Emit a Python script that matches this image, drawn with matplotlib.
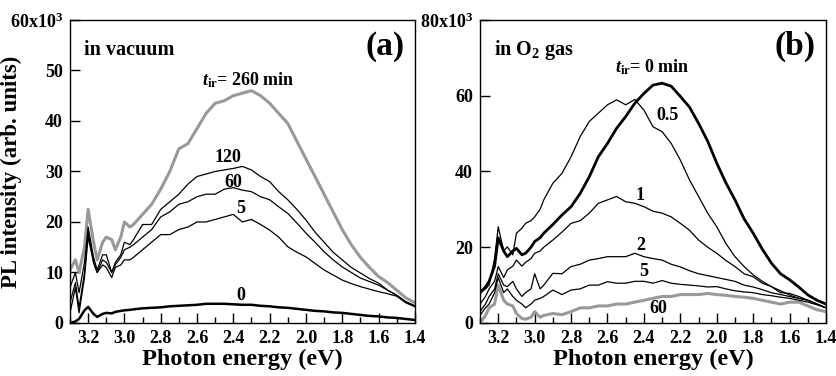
import matplotlib
matplotlib.use('Agg')
import matplotlib.pyplot as plt
from matplotlib.ticker import MultipleLocator

plt.rcParams['font.family'] = ['Liberation Serif', 'DejaVu Serif']
plt.rcParams['font.weight'] = 'bold'
plt.rcParams['mathtext.fontset'] = 'custom'
plt.rcParams['mathtext.rm'] = 'Liberation Serif:bold'
plt.rcParams['mathtext.it'] = 'Liberation Serif:bold:italic'
plt.rcParams['mathtext.bf'] = 'Liberation Serif:bold'

# photon energy grid (eV), same for every spectrum
energy = [3.30, 3.27, 3.25, 3.22, 3.20, 3.17, 3.15, 3.12, 3.10, 3.07, 3.05, 3.02, 3.00, 2.97, 2.95,
          2.90, 2.85, 2.80, 2.75, 2.70, 2.65, 2.60, 2.55, 2.50, 2.45, 2.40, 2.35, 2.30, 2.25, 2.20,
          2.15, 2.10, 2.05, 2.00, 1.95, 1.90, 1.85, 1.80, 1.75, 1.70, 1.65, 1.60, 1.55, 1.50, 1.45, 1.40]

# (a) in vacuum, PL intensity in units of 10^3
vac_260 = [10.5, 12.5, 10, 15, 22.5, 16, 12.5, 16, 17, 16.5, 14.5, 17, 20, 19, 19.5,
           21.5, 23.5, 26.5, 30, 34.5, 35.5, 38.5, 41.5, 43.5, 44, 45, 45.5, 46, 45, 43.5,
           41.5, 39.5, 36, 32.5, 29, 25.5, 22, 18.5, 15.5, 13, 11, 9.2, 8, 6.5, 5, 4]
vac_120 = [7, 10, 6, 12, 19, 13, 10.5, 13.5, 13.5, 10, 12, 13.5, 16, 15.5, 16.5,
           19.5, 19.5, 22.5, 24, 25.5, 27.5, 29, 29.5, 30, 30.3, 30.6, 31, 30.3, 29, 28,
           26, 24.4, 22.5, 20.4, 18, 16, 14, 12.5, 11, 9.9, 8.8, 7.9, 6.5, 5.5, 4.2, 3.4]
vac_60 = [4, 8, 3, 10, 18, 12, 10, 12.5, 12, 10, 11.5, 13, 14.5, 15, 15.5,
          17, 18.5, 21, 22, 23.5, 24, 25, 25.5, 25.5, 26.5, 26.8, 26.3, 26, 25, 24.4,
          23, 21.7, 19.8, 17.8, 16, 14.1, 12.5, 11.1, 10, 8.9, 8.2, 7.5, 6.5, 5.5, 4.2, 3.4]
vac_5 = [2, 7, 2, 9, 17, 12, 10, 11.5, 11, 9, 11, 11.5, 12.5, 12.5, 13,
         14.5, 16, 17.5, 17.5, 18.5, 19, 20, 20, 20.5, 21, 21.5, 20, 20.5, 19.5, 18.4,
         17, 15.1, 14, 13.1, 11.8, 10.5, 9.5, 8.5, 7.8, 7.2, 6.7, 6.2, 5.8, 5.3, 4, 3.2]
vac_0 = [0, 0.3, 0.8, 2.5, 3.2, 1.8, 1.2, 1.8, 2, 1.9, 2.2, 2.4, 2.5, 2.6, 2.7,
         2.9, 3.0, 3.1, 3.3, 3.4, 3.5, 3.6, 3.8, 3.8, 3.8, 3.7, 3.6, 3.6, 3.4, 3.3,
         3.1, 3.0, 2.8, 2.6, 2.4, 2.3, 2.1, 2.0, 1.8, 1.6, 1.4, 1.3, 1.1, 1.0, 0.8, 0.6]

# (b) in O2 gas
o2_0 = [8, 9.5, 11, 15, 22.5, 19, 17.5, 19, 19.7, 18, 18.4, 20, 21.5, 22.5, 23.7,
        26, 28.5, 30.7, 34.2, 38.6, 43.9, 47.4, 51.4, 54.5, 58, 60.6, 62.8, 63.3, 62.5, 59.8,
        57, 52.7, 48, 42.2, 37, 32.5, 27.5, 23.7, 19.5, 15.8, 13, 11.4, 9.5, 7.4, 6, 5]
o2_05 = [8, 9, 10, 17, 25.4, 19, 20.1, 18, 23.7, 25, 26.3, 27, 28, 30, 32.5,
         36.9, 39.5, 43.9, 49.2, 53.2, 55.4, 57.6, 58.9, 57.6, 59, 56.2, 51.8, 50.5, 47.4, 43,
         37.8, 33.4, 29, 25.4, 21, 17.5, 14.9, 12.7, 11, 9.6, 8.5, 7.4, 6.5, 6, 5, 4]
o2_1 = [5, 7, 9, 11, 14.9, 12, 14, 15, 16.6, 15, 16, 17, 18.4, 19, 20,
        21.9, 24, 26.3, 27, 29, 31.6, 32.5, 33.4, 32, 31.6, 30.7, 29.5, 29, 28, 26.3,
        24.5, 21.9, 20, 18.4, 16.5, 14.9, 13, 12.2, 10.5, 9.6, 8, 7.8, 7, 6, 5, 4]
o2_2 = [3, 5, 7, 9, 13, 10, 9.6, 11, 9, 7, 8, 9, 13, 9, 10,
        13.1, 13, 14.9, 15.5, 16.6, 17, 17.5, 17.5, 17.5, 18.4, 17.5, 17, 16.6, 15.5, 14.8,
        13.8, 13, 12.5, 12, 11.5, 11, 10, 9.5, 8.8, 8, 7.5, 7, 6.5, 6, 5, 4]
o2_5 = [2, 4, 5, 8, 12, 8, 9, 7, 6, 5, 4, 5, 6, 6.5, 7,
        8.7, 7.5, 8.7, 9, 10, 10, 10.9, 10.5, 10.5, 11, 11, 10.5, 11.2, 10.5, 10.2,
        10, 9.8, 9.5, 9.6, 9, 8.5, 8.2, 8, 7.5, 7.2, 6.8, 6.5, 6, 5.5, 4.8, 4]
o2_60 = [0, 2, 4, 5, 10, 6, 5, 4.5, 2.5, 1.2, 1, 1.5, 3, 1.5, 2,
         2.5, 2.2, 3, 4, 4, 4.5, 4.5, 5, 5, 5.5, 6, 6.5, 7, 7, 7.5,
         7.5, 7.5, 7.8, 7.5, 7.3, 7, 6.8, 6.5, 6, 5.5, 5, 5.5, 5.5, 4.5, 3.5, 3]

gray = '#999999'
fig = plt.figure(figsize=(8.37, 3.76), dpi=100)
ax1 = fig.add_axes([0.0836, 0.141, 0.412, 0.806])
ax2 = fig.add_axes([0.5735, 0.141, 0.4134, 0.806])

ax1.plot(energy, vac_260, color=gray, lw=2.2)
ax1.plot(energy, vac_120, color='black', lw=0.9)
ax1.plot(energy, vac_60, color='black', lw=0.9)
ax1.plot(energy, vac_5, color='black', lw=0.9)
ax1.plot(energy, vac_0, color='black', lw=1.8)

ax2.plot(energy, o2_60, color=gray, lw=2.2)
ax2.plot(energy, o2_5, color='black', lw=0.9)
ax2.plot(energy, o2_2, color='black', lw=0.9)
ax2.plot(energy, o2_1, color='black', lw=0.9)
ax2.plot(energy, o2_05, color='black', lw=0.9)
ax2.plot(energy, o2_0, color='black', lw=2.0)

for ax, ytop, ystep in [(ax1, 60, 10), (ax2, 80, 20)]:
    ax.set_xlim(3.3, 1.4)
    ax.set_ylim(0, ytop)
    ax.xaxis.set_major_locator(MultipleLocator(0.2))
    ax.xaxis.set_minor_locator(MultipleLocator(0.1))
    ticks = list(range(0, ytop + 1, ystep))
    ax.set_yticks(ticks)
    ax.set_yticklabels([str(t) for t in ticks[:-1]] + ['%dx10$^3$' % ytop])
    ax.set_xticklabels(['%.1f' % t for t in ax.get_xticks()])
    ax.tick_params(axis='both', which='major', direction='in', length=7, width=1,
                   labelsize=13, top=False, right=False, pad=5)
    ax.tick_params(axis='x', which='minor', direction='in', length=4, width=1, top=False)
    for s in ax.spines.values():
        s.set_linewidth(1)
    ax.set_xlabel('Photon energy (eV)', fontsize=17.5, fontweight='bold', labelpad=1)

ax1.set_ylabel('PL intensity (arb. units)', fontsize=16.5, fontweight='bold')
ax1.yaxis.set_label_coords(-0.14, 0.5)

ax1.text(0.04, 0.885, 'in vacuum', transform=ax1.transAxes, fontsize=14.5, fontweight='bold')
ax1.text(0.97, 0.885, '(a)', transform=ax1.transAxes, fontsize=24, fontweight='bold', ha='right')
ax1.text(2.57, 47, r'$t_\mathrm{ir}$= 260 min', fontsize=13, fontweight='bold')
ax1.text(2.43, 31.8, '120', fontsize=13, fontweight='bold', ha='center')
ax1.text(2.40, 27, '60', fontsize=13, fontweight='bold', ha='center')
ax1.text(2.36, 21.8, '5', fontsize=13, fontweight='bold', ha='center')
ax1.text(2.36, 4.5, '0', fontsize=13, fontweight='bold', ha='center')

ax2.text(0.04, 0.885, 'in O$_2$ gas', transform=ax2.transAxes, fontsize=14.5, fontweight='bold')
ax2.text(0.97, 0.885, '(b)', transform=ax2.transAxes, fontsize=24, fontweight='bold', ha='right')
ax2.text(2.56, 66.3, r'$t_\mathrm{ir}$= 0 min', fontsize=13, fontweight='bold')
ax2.text(2.27, 53.6, '0.5', fontsize=13, fontweight='bold', ha='center')
ax2.text(2.42, 32.5, '1', fontsize=13, fontweight='bold', ha='center')
ax2.text(2.42, 19.3, '2', fontsize=13, fontweight='bold', ha='center')
ax2.text(2.40, 12.4, '5', fontsize=13, fontweight='bold', ha='center')
ax2.text(2.32, 2.6, '60', fontsize=13, fontweight='bold', ha='center')

fig.savefig('out.png', dpi=100)
